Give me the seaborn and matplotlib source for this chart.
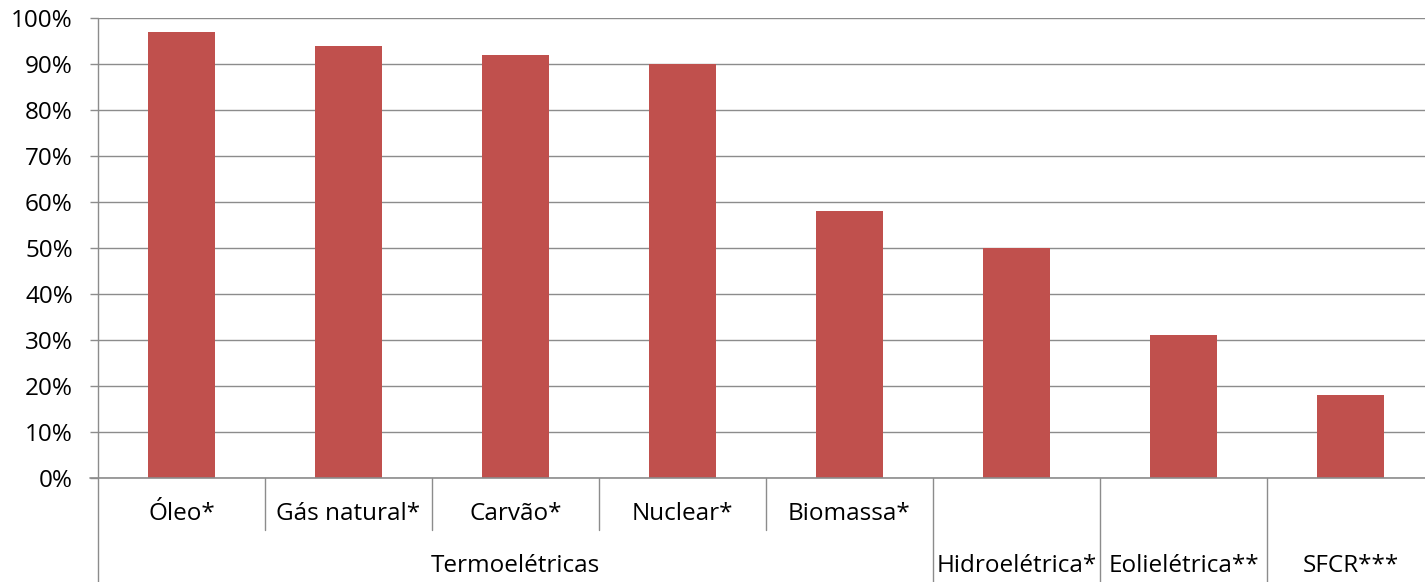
import matplotlib
matplotlib.use("Agg")
import matplotlib.pyplot as plt
import matplotlib.transforms as mtransforms
import seaborn as sns
import pandas as pd

# Capacity factor by generation source
sources = ["Óleo*", "Gás natural*", "Carvão*", "Nuclear*", "Biomassa*",
           "Hidroelétrica*", "Eolielétrica**", "SFCR***"]
capacity = [0.97, 0.94, 0.92, 0.90, 0.58, 0.50, 0.31, 0.18]
# Group label spanning the thermal sources
group_name = "Termoelétricas"
group_members = 5
yticks = [0.0, 0.1, 0.2, 0.3, 0.4, 0.5, 0.6, 0.7, 0.8, 0.9, 1.0]

sns.set_theme(style="white")
plt.rcParams["font.family"] = ["Open Sans", "DejaVu Sans"]
FS = 17.5

W, H = 1425, 582
fig = plt.figure(figsize=(W / 100, H / 100), dpi=100)
left, right, top, bottom = 98, 1434, 18, 478
ax = fig.add_axes([left / W, (H - bottom) / H, (right - left) / W, (bottom - top) / H])

df = pd.DataFrame({"source": sources, "capacity": capacity})
sns.barplot(data=df, x="source", y="capacity", color="#C0504D", saturation=1,
            width=0.4, ax=ax, edgecolor="none")

grid_color = "#8C8C8C"
ax.set_xlim(-0.5, len(sources) - 0.5)
ax.set_ylim(0, 1.0)
ax.set_yticks(yticks)
ax.set_yticklabels([f"{v:.0%}" for v in yticks], fontsize=FS, color="black")
ax.yaxis.grid(True, color=grid_color, linewidth=1.0)
ax.set_axisbelow(True)
ax.tick_params(axis="y", direction="out", length=6, width=1.0, color=grid_color,
               pad=12, left=True)
ax.tick_params(axis="x", bottom=False, labelbottom=False)
ax.set_xlabel("")
ax.set_ylabel("")
for s in ["top", "right", "bottom", "left"]:
    ax.spines[s].set_visible(False)

# Axis lines and the category dividers below the plot area
px = 1 / (bottom - top)  # one pixel in axes-fraction units (vertical)
trans = mtransforms.blended_transform_factory(ax.transData, ax.transAxes)
ax.plot([-0.5, -0.5], [1.0, -(H - bottom) * px], transform=trans, color=grid_color,
        lw=1.0, clip_on=False)
ax.plot([-0.5 - 8 / ((right - left) / len(sources)), len(sources) - 0.5], [0, 0],
        transform=trans, color=grid_color, lw=1.2, clip_on=False, zorder=5)
for i in range(1, len(sources)):
    x = i - 0.5
    if i < group_members:
        y_end = -(530 - bottom) * px
    else:
        y_end = -(H - bottom) * px
    ax.plot([x, x], [0, y_end], transform=trans, color=grid_color, lw=1.0, clip_on=False)

# Category labels: thermal sources on the upper row, the rest on the lower row
upper_y = -(514 - bottom) * px
lower_y = -(566 - bottom) * px
for i, name in enumerate(sources):
    y = upper_y if i < group_members else lower_y
    ax.text(i, y, name, transform=trans, ha="center", va="center", fontsize=FS,
            color="black")
ax.text((group_members - 1) / 2, lower_y, group_name, transform=trans, ha="center",
        va="center", fontsize=FS, color="black")

fig.savefig("out.png", dpi=100, facecolor="white")
